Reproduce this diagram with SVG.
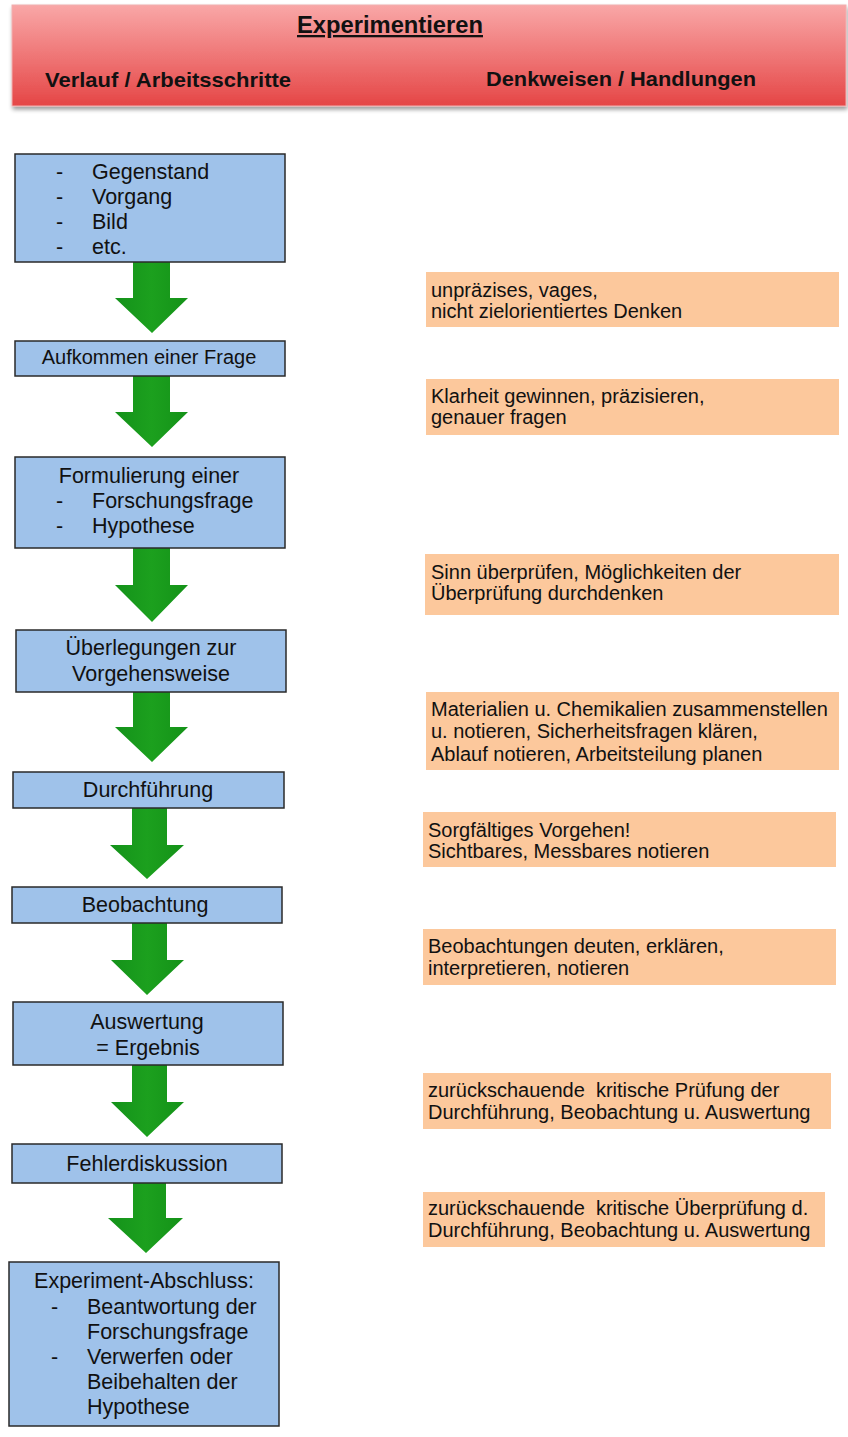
<svg xmlns="http://www.w3.org/2000/svg" width="848" height="1437" viewBox="0 0 848 1437">
<style>
.hd{font-family:"Liberation Sans",Arial,sans-serif;font-weight:bold;fill:#111}
.b{fill:#9fc2ea;stroke:#2a2a2a;stroke-width:1.5}
.bt{font-family:"Liberation Sans",Arial,sans-serif;font-size:21.5px;fill:#111}
.o{fill:#fcc89c}
.ot{font-family:"Liberation Sans",Arial,sans-serif;font-size:20px;fill:#111;white-space:pre}
.ar{fill:url(#ag)}
</style>
<defs>
<linearGradient id="hg" x1="0" y1="0" x2="0" y2="1">
<stop offset="0" stop-color="#f9a7a7"/>
<stop offset="1" stop-color="#e54646"/>
</linearGradient>
<linearGradient id="ag" x1="0" y1="0" x2="1" y2="0">
<stop offset="0" stop-color="#14921a"/>
<stop offset="0.5" stop-color="#1ca01e"/>
<stop offset="1" stop-color="#149218"/>
</linearGradient>
<filter id="sh" x="-5%" y="-20%" width="110%" height="150%">
<feGaussianBlur in="SourceAlpha" stdDeviation="2"/>
<feOffset dx="1" dy="3"/>
<feComponentTransfer><feFuncA type="linear" slope="0.4"/></feComponentTransfer>
<feMerge><feMergeNode/><feMergeNode in="SourceGraphic"/></feMerge>
</filter>
</defs>
<rect width="848" height="1437" fill="#ffffff"/>

<g id="header">
<rect x="12" y="5" width="834" height="101" fill="url(#hg)" stroke="#f0b0b0" stroke-width="1" filter="url(#sh)"/>
<text class="hd" x="390" y="33" font-size="23" text-anchor="middle" text-decoration="underline" textLength="186" lengthAdjust="spacingAndGlyphs">Experimentieren</text>
<text class="hd" x="45" y="87" font-size="21" textLength="246" lengthAdjust="spacingAndGlyphs">Verlauf / Arbeitsschritte</text>
<text class="hd" x="486" y="86" font-size="21" textLength="270" lengthAdjust="spacingAndGlyphs">Denkweisen / Handlungen</text>
</g>

<g id="connectors">
<path class="ar" d="M133 262 H170 V298 H188 L152 333 L115 298 H133 Z"/>
<path class="ar" d="M133 376 H170 V412 H188 L152 447 L115 412 H133 Z"/>
<path class="ar" d="M133 548 H170 V585 H188 L152 622 L115 585 H133 Z"/>
<path class="ar" d="M133 692 H170 V727 H188 L152 762 L115 727 H133 Z"/>
<path class="ar" d="M132 808 H167 V845 H184 L147 879 L110 845 H132 Z"/>
<path class="ar" d="M132 923 H167 V960 H184 L147 995 L111 960 H132 Z"/>
<path class="ar" d="M132 1065 H167 V1102 H184 L147 1137 L111 1102 H132 Z"/>
<path class="ar" d="M133 1183 H166 V1218 H183 L146 1253 L108 1218 H133 Z"/>
</g>

<g id="n1">
<rect class="b" x="15" y="154" width="270" height="108"/>
<text class="bt" x="56" y="179">-</text><text class="bt" x="92" y="179">Gegenstand</text>
<text class="bt" x="56" y="204">-</text><text class="bt" x="92" y="204">Vorgang</text>
<text class="bt" x="56" y="229">-</text><text class="bt" x="92" y="229">Bild</text>
<text class="bt" x="56" y="254">-</text><text class="bt" x="92" y="254">etc.</text>
</g>
<g id="n2">
<rect class="b" x="15" y="341" width="270" height="35"/>
<text class="bt" x="149" y="364" text-anchor="middle" style="font-size:20px">Aufkommen einer Frage</text>
</g>
<g id="n3">
<rect class="b" x="15" y="457" width="270" height="91"/>
<text class="bt" x="149" y="483" text-anchor="middle">Formulierung einer</text>
<text class="bt" x="56" y="508">-</text><text class="bt" x="92" y="508">Forschungsfrage</text>
<text class="bt" x="56" y="533">-</text><text class="bt" x="92" y="533">Hypothese</text>
</g>
<g id="n4">
<rect class="b" x="16" y="630" width="270" height="62"/>
<text class="bt" x="151" y="655" text-anchor="middle">Überlegungen zur</text>
<text class="bt" x="151" y="681" text-anchor="middle">Vorgehensweise</text>
</g>
<g id="n5">
<rect class="b" x="13" y="772" width="271" height="36"/>
<text class="bt" x="148" y="797" text-anchor="middle">Durchführung</text>
</g>
<g id="n6">
<rect class="b" x="12" y="887" width="270" height="36"/>
<text class="bt" x="145" y="912" text-anchor="middle">Beobachtung</text>
</g>
<g id="n7">
<rect class="b" x="13" y="1002" width="270" height="63"/>
<text class="bt" x="147" y="1029" text-anchor="middle">Auswertung</text>
<text class="bt" x="148" y="1055" text-anchor="middle">= Ergebnis</text>
</g>
<g id="n8">
<rect class="b" x="12" y="1144" width="270" height="39"/>
<text class="bt" x="147" y="1171" text-anchor="middle">Fehlerdiskussion</text>
</g>
<g id="n9">
<rect class="b" x="9" y="1262" width="270" height="164"/>
<text class="bt" x="144" y="1288" text-anchor="middle">Experiment-Abschluss:</text>
<text class="bt" x="51" y="1314">-</text><text class="bt" x="87" y="1314">Beantwortung der</text>
<text class="bt" x="87" y="1339">Forschungsfrage</text>
<text class="bt" x="51" y="1364">-</text><text class="bt" x="87" y="1364">Verwerfen oder</text>
<text class="bt" x="87" y="1389">Beibehalten der</text>
<text class="bt" x="87" y="1414">Hypothese</text>
</g>

<g id="t1">
<rect class="o" x="426" y="272" width="413" height="55"/>
<text class="ot" x="431" y="297">unpräzises, vages,</text>
<text class="ot" x="431" y="318">nicht zielorientiertes Denken</text>
</g>
<g id="t2">
<rect class="o" x="426" y="379" width="413" height="56"/>
<text class="ot" x="431" y="403">Klarheit gewinnen, präzisieren,</text>
<text class="ot" x="431" y="424">genauer fragen</text>
</g>
<g id="t3">
<rect class="o" x="425" y="554" width="414" height="61"/>
<text class="ot" x="431" y="579">Sinn überprüfen, Möglichkeiten der</text>
<text class="ot" x="431" y="600">Überprüfung durchdenken</text>
</g>
<g id="t4">
<rect class="o" x="426" y="692" width="413" height="78"/>
<text class="ot" x="431" y="716">Materialien u. Chemikalien zusammenstellen</text>
<text class="ot" x="431" y="738">u. notieren, Sicherheitsfragen klären,</text>
<text class="ot" x="431" y="761">Ablauf notieren, Arbeitsteilung planen</text>
</g>
<g id="t5">
<rect class="o" x="423" y="812" width="413" height="55"/>
<text class="ot" x="428" y="837">Sorgfältiges Vorgehen!</text>
<text class="ot" x="428" y="858">Sichtbares, Messbares notieren</text>
</g>
<g id="t6">
<rect class="o" x="423" y="929" width="413" height="56"/>
<text class="ot" x="428" y="953">Beobachtungen deuten, erklären,</text>
<text class="ot" x="428" y="975">interpretieren, notieren</text>
</g>
<g id="t7">
<rect class="o" x="423" y="1073" width="408" height="56"/>
<text class="ot" x="428" y="1097">zurückschauende  kritische Prüfung der</text>
<text class="ot" x="428" y="1119">Durchführung, Beobachtung u. Auswertung</text>
</g>
<g id="t8">
<rect class="o" x="423" y="1192" width="402" height="55"/>
<text class="ot" x="428" y="1215">zurückschauende  kritische Überprüfung d.</text>
<text class="ot" x="428" y="1237">Durchführung, Beobachtung u. Auswertung</text>
</g>
</svg>
